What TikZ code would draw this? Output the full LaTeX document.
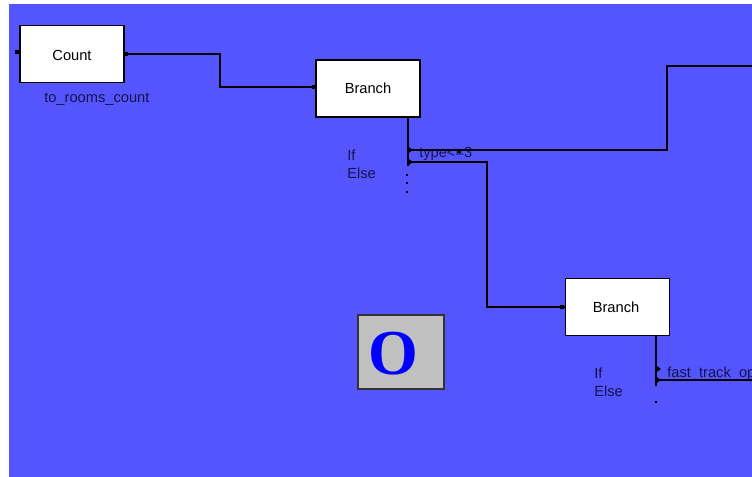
\documentclass[tikz,border=0pt]{standalone}
\usepackage{fontspec}
\setmainfont{Liberation Sans}
\newfontfamily\logofont{Liberation Serif}
\definecolor{modelblau}{RGB}{85,85,255}
\definecolor{symbolgrau}{RGB}{192,192,192}
\definecolor{labeldunkel}{RGB}{20,20,70}
\tikzset{
  block/.style={draw=black,line width=1.2pt,fill=white,minimum width=78pt,minimum height=43pt,inner sep=0pt},
  blocktext/.style={inner sep=0pt,font=\fontsize{11}{13}\selectfont},
  wire/.style={black,line width=1.2pt},
  lbl/.style={inner sep=0pt,anchor=west,text=labeldunkel,font=\fontsize{11}{13}\selectfont},
  port/.style={fill=black,inner sep=0pt,minimum size=3pt},
}
\begin{document}
\begin{tikzpicture}[x=0.75pt,y=-0.75pt]
\useasboundingbox (0,0) rectangle (752,477);
\fill[modelblau] (9,4) rectangle (752,477);
% Bloecke
\node[block] (count) at (72,54) {};
\node[block] (branchA) at (368,88.5) {};
\node[block] (branchB) at (617.5,307) {};
\node[blocktext] (counttext) at (72,55) {Count};
\node[blocktext] (branchAtext) at (368,88.5) {Branch};
\node[blocktext] (branchBtext) at (616,307) {Branch};
\node[draw=black!80,line width=1.2pt,fill=symbolgrau,minimum width=64.5pt,minimum height=55.5pt,inner sep=0pt] (logo) at (401,352) {};
\node[inner sep=0pt,text=blue,font=\logofont\bfseries\fontsize{48}{48}\selectfont] (logoO) at (393,354) {O};
% Beschriftung
\node[lbl] (countname) at (44,99) {to\_rooms\_count};
\node[lbl] (ifA) at (347,155) {If};
\node[lbl] (elseA) at (347,173) {Else};
\node[lbl] (ifB) at (594,373) {If};
\node[lbl] (elseB) at (594,391) {Else};
\node[lbl] (condA) at (419,154) {type<=3};
\node[lbl] (condB) at (667,374) {fast\_track\_op};
% Anschluesse
\coordinate (outA) at (408,150);
\coordinate (outAb) at (408,162);
\coordinate (outB) at (656,369);
\coordinate (outBb) at (656,380);
\coordinate (rand) at (752,66);
\coordinate (randB) at (752,380);
\coordinate (endA) at (408,166);
\coordinate (endB) at (656,386);
% Verbindungen
\draw[wire] (count.east) -- (220,54) -- (220,87) -- (branchA.west |- 0,87);
\draw[wire] (branchA.south -| outA) -- (endA);
\draw[wire] (outA) -- (667,150) -- (667,66) -- (rand);
\draw[wire] (outAb) -- (487,162) -- (487,307) -- (branchB.west);
\draw[wire] (branchB.south -| outB) -- (endB);
\draw[wire] (outBb) -- (randB);
% Punkte
\foreach \x/\y in {17/52,125.5/54,314/87,562/306.5,459/151}
  \node[port] at (\x,\y) {};
\foreach \y in {175,183,192}
  \node[fill=black,inner sep=0pt,minimum width=2pt,minimum height=1.5pt] at (407,\y) {};
\node[fill=black,inner sep=0pt,minimum size=2pt] (dotB) at (656,402) {};
\foreach \p in {outA,outAb,outB,outBb}
  \fill (\p) ++(0,-3.5) -- ++(5,3.5) -- ++(-5,3.5) -- cycle;
\end{tikzpicture}
\end{document}
